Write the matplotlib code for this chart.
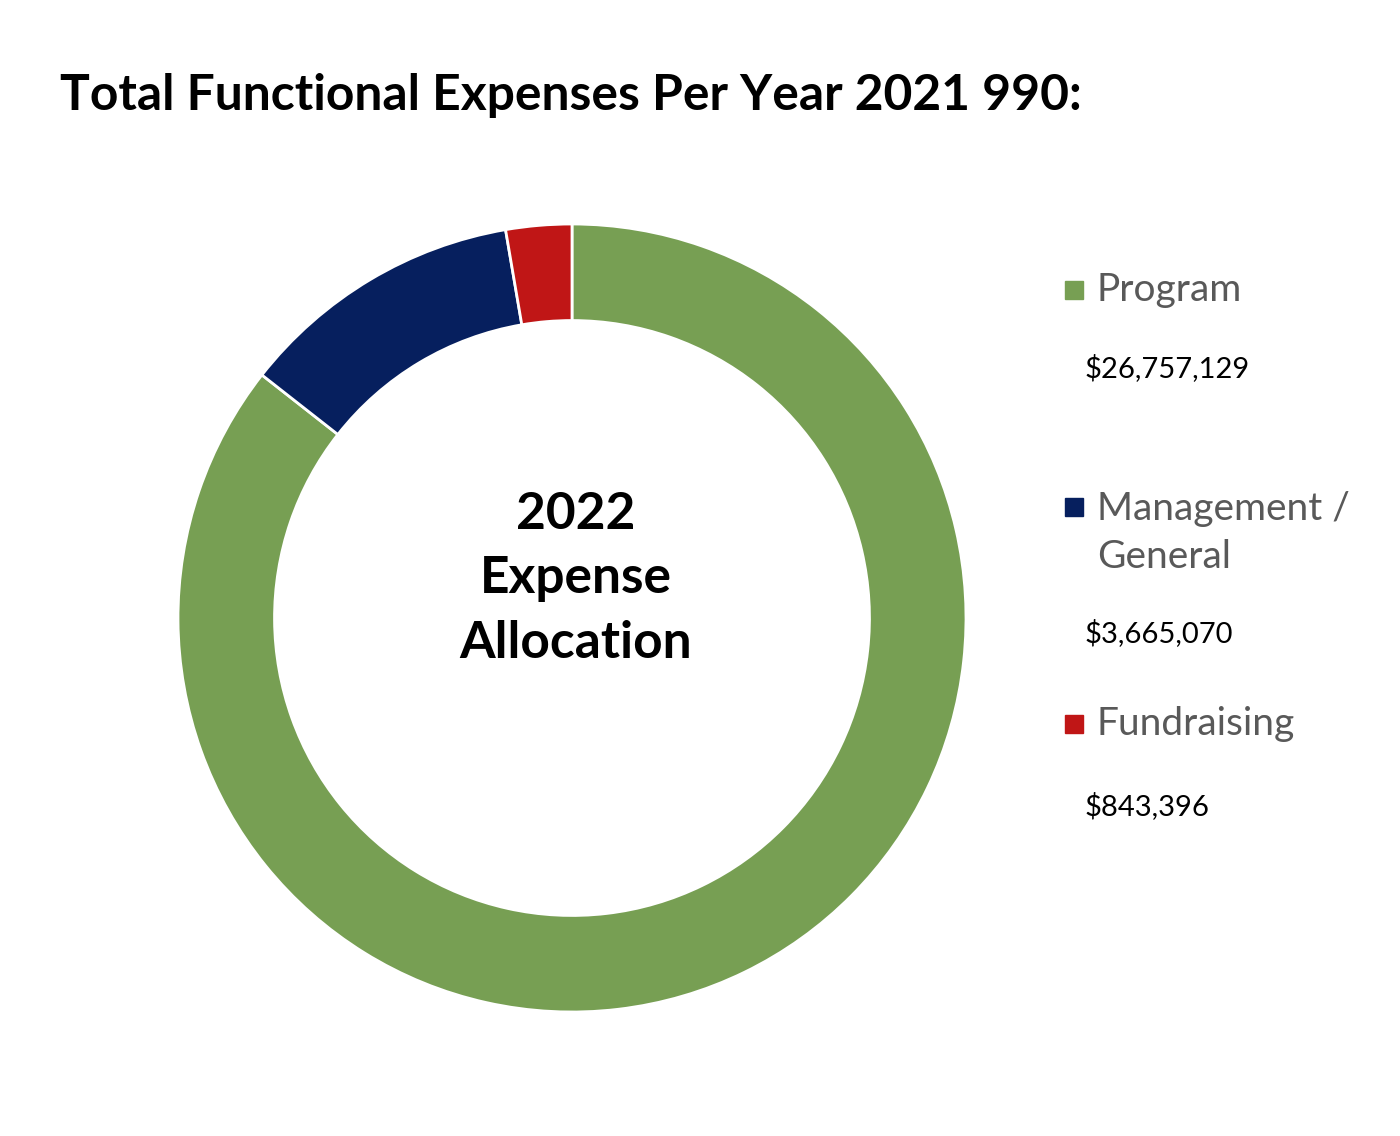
import matplotlib.pyplot as plt
from matplotlib.patches import Rectangle

categories = ["Program", "Management /\nGeneral", "Fundraising"]
amounts = [26757129, 3665070, 843396]
amount_labels = ["$26,757,129", "$3,665,070", "$843,396"]
colors = ["#779F53", "#061F5E", "#C01616"]

plt.rcParams['font.family'] = ['Lato', 'DejaVu Sans']

fig = plt.figure(figsize=(14, 11.36), dpi=100)

# donut
ax = fig.add_axes([178 / 1400, 124 / 1136, 788 / 1400, 788 / 1136])
ax.pie(amounts, colors=colors, startangle=90, counterclock=False,
       wedgeprops=dict(width=0.245, edgecolor="white", linewidth=2))
ax.set_xlim(-1, 1)
ax.set_ylim(-1, 1)
ax.set_aspect("equal")
ax.axis("off")

ax.text(0.01, 0.10, "2022\nExpense\nAllocation", ha="center", va="center",
        fontsize=37, fontweight="bold", linespacing=1.46)

fig.text(60 / 1400, 1 - 95 / 1136, "Total Functional Expenses Per Year 2021 990:",
         ha="left", va="center", fontsize=35.8, fontweight="bold")

# legend
label_y = [290, 533, 724]
amount_y = [368, 633, 806]
first_line_y = [290, 507, 724]
for i, cat in enumerate(categories):
    fig.patches.append(Rectangle((1065 / 1400, 1 - (first_line_y[i] + 9) / 1136),
                                 18 / 1400, 18 / 1136, color=colors[i],
                                 transform=fig.transFigure, figure=fig))
    fig.text(1097 / 1400, 1 - label_y[i] / 1136, cat, ha="left", va="center",
             fontsize=28, color="#595959", linespacing=1.42)
    fig.text(1085 / 1400, 1 - amount_y[i] / 1136, amount_labels[i], ha="left",
             va="center", fontsize=21, color="black")

fig.savefig("out.png", dpi=100, facecolor="white")
